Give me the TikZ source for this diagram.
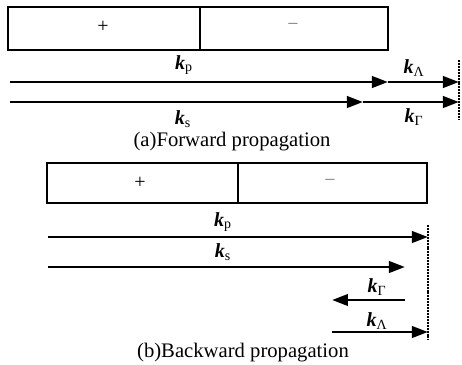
\documentclass[tikz,border=0pt]{standalone}
\usepackage{fontspec}
\setmainfont{Liberation Serif}
\usetikzlibrary{arrows.meta}
\newcommand{\kvec}[1]{\textbf{\textit{k}}\textsubscript{#1}}
\begin{document}
\begin{tikzpicture}[x=0.75pt,y=-0.75pt,
  boxline/.style={line width=2.2pt},
  ray/.style={line width=2.2pt,-{Triangle[length=12pt,width=8.5pt]}},
  wall/.style={line width=2pt,dash pattern=on 1.5pt off 0.7pt},
  lbl/.style={font=\fontsize{15}{17}\selectfont,inner sep=0pt},
  sign/.style={font=\fontsize{15}{17}\selectfont,inner sep=0pt},
  captext/.style={font=\fontsize{15.5}{18}\selectfont,inner sep=0pt}]
\useasboundingbox (0,0) rectangle (462,365);
% ---------- (a) ----------
\draw[boxline] (8,7) rectangle (388,50);
\draw[boxline] (200,7) -- (200,50);
\node[sign] (ap) at (103,27) {+};
\node[sign,gray] (am) at (293,27) {−};
\coordinate (ap0) at (10,82);
\coordinate (ap1) at (388,82);
\coordinate (ap2) at (459,82);
\coordinate (as0) at (10,102);
\coordinate (as1) at (363,102);
\coordinate (as2) at (459,102);
\draw[ray] (ap0) -- (ap1);
\draw[ray] (ap1) -- (ap2);
\draw[ray] (as0) -- (as1);
\draw[ray] (as1) -- (as2);
\coordinate (aw0) at (459,60);
\coordinate (aw1) at (459,120);
\draw[wall] (aw0) -- (aw1);
\node[lbl] (akp) at (184,65) {\kvec{p}};
\node[lbl] (akL) at (414,68) {\kvec{Λ}};
\node[lbl] (aks) at (183,119) {\kvec{s}};
\node[lbl] (akG) at (414,117) {\kvec{Γ}};
\node[captext] (capa) at (232,142) {(a)Forward propagation};
% ---------- (b) ----------
\draw[boxline] (47,163) rectangle (427,203);
\draw[boxline] (238,163) -- (238,203);
\node[sign] (bp) at (140,183) {+};
\node[sign,gray] (bm) at (330,183) {−};
\coordinate (bp0) at (48,237);
\coordinate (bp1) at (428,237);
\coordinate (bs0) at (48,267);
\coordinate (bs1) at (405,267);
\coordinate (bg0) at (405,300);
\coordinate (bg1) at (332,300);
\coordinate (bl0) at (332,332);
\coordinate (bl1) at (428,332);
\draw[ray] (bp0) -- (bp1);
\draw[ray] (bs0) -- (bs1);
\draw[ray] (bg0) -- (bg1);
\draw[ray] (bl0) -- (bl1);
\coordinate (bw0) at (428,225);
\coordinate (bw1) at (428,340);
\draw[wall] (bw0) -- (bw1);
\node[lbl] (bkp) at (223,222) {\kvec{p}};
\node[lbl] (bks) at (223,252) {\kvec{s}};
\node[lbl] (bkG) at (377,287) {\kvec{Γ}};
\node[lbl] (bkL) at (377,321) {\kvec{Λ}};
\node[captext] (capb) at (243,353) {(b)Backward propagation};
\end{tikzpicture}
\end{document}
